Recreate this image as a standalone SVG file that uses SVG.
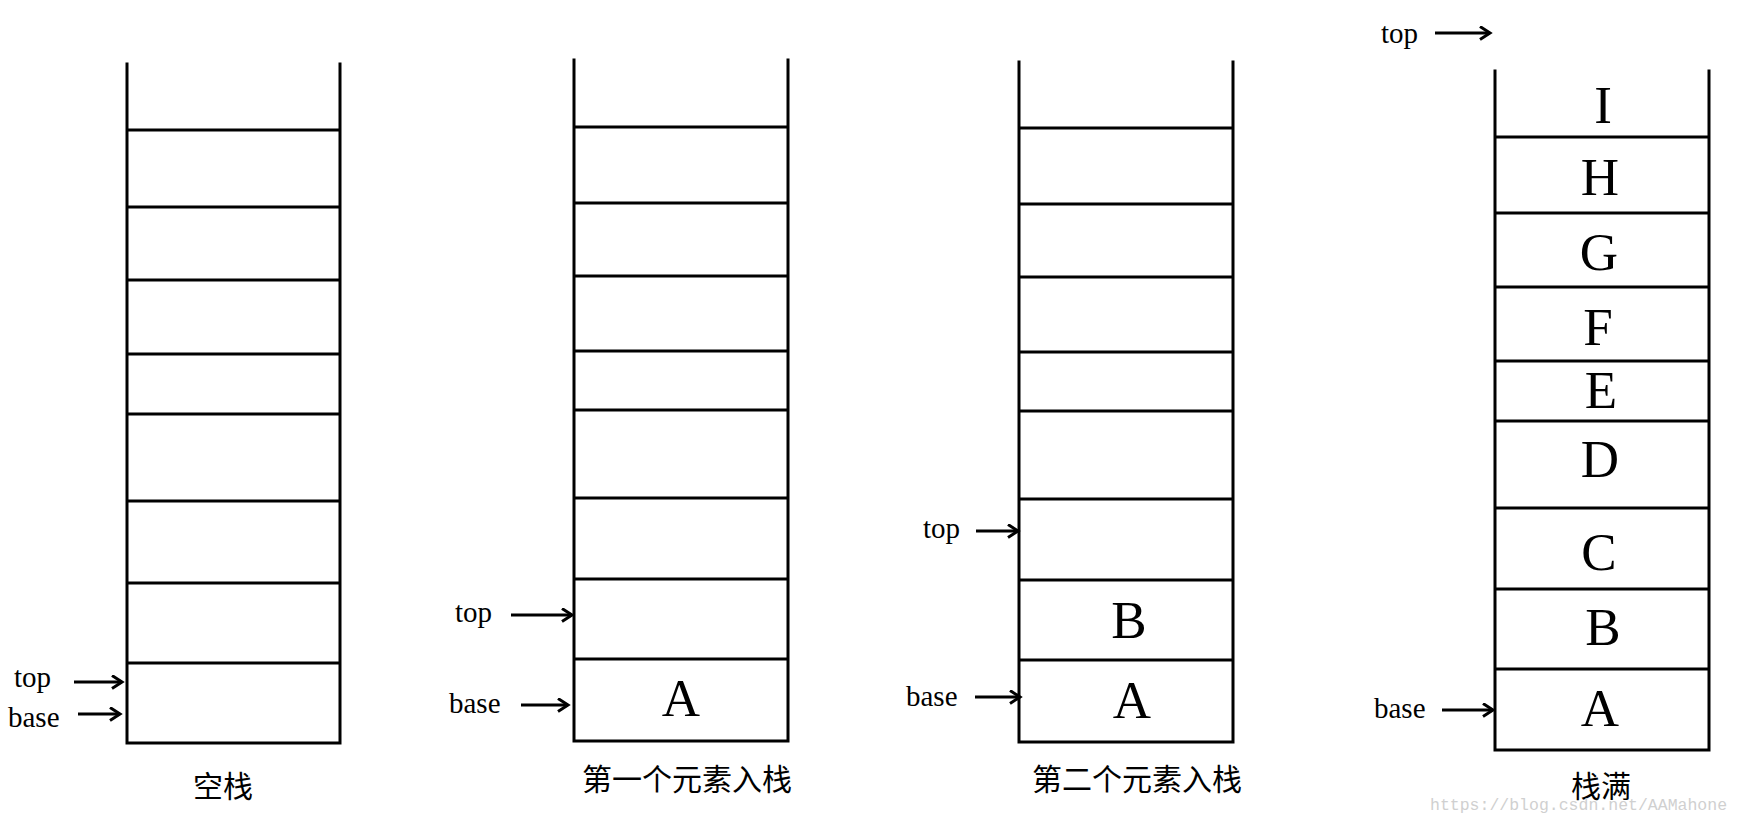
<svg xmlns="http://www.w3.org/2000/svg" width="1741" height="825" viewBox="0 0 1741 825">
<style>
.w{stroke:#000;stroke-width:3;fill:none;stroke-linecap:square}
.h{stroke:#000;stroke-width:3}
.lbl{font-family:"Liberation Serif",serif;font-size:29px;fill:#000}
.big{font-family:"Liberation Serif",serif;font-size:53px;fill:#000;text-anchor:middle}
.cap{font-family:"Noto Sans CJK SC","Noto Sans",sans-serif;font-size:30px;fill:#000;text-anchor:middle}
.arr{stroke:#000;stroke-width:3;fill:none;marker-end:url(#ah)}
.wm{font-family:"Liberation Mono",monospace;font-size:16.5px;fill:#d0d0d0}
</style>
<defs>
<marker id="ah" markerUnits="userSpaceOnUse" markerWidth="14" markerHeight="16" refX="11" refY="7" orient="auto">
<path d="M1,0.5 L11,7 L1,13.5" fill="none" stroke="#000" stroke-width="3"/>
</marker>
</defs>

<g id="stack1">
<path class="w" d="M127,64 V743 H340 V64"/>
<g class="h">
<line x1="127" y1="130" x2="340" y2="130"/>
<line x1="127" y1="207" x2="340" y2="207"/>
<line x1="127" y1="280" x2="340" y2="280"/>
<line x1="127" y1="354" x2="340" y2="354"/>
<line x1="127" y1="414" x2="340" y2="414"/>
<line x1="127" y1="501" x2="340" y2="501"/>
<line x1="127" y1="583" x2="340" y2="583"/>
<line x1="127" y1="663" x2="340" y2="663"/>
</g>
<text class="lbl" x="14" y="687">top</text>
<text class="lbl" x="8" y="727">base</text>
<text class="cap" x="223" y="797">空栈</text>
</g>

<g id="stack2">
<path class="w" d="M574,60 V741 H788 V60"/>
<g class="h">
<line x1="574" y1="127" x2="788" y2="127"/>
<line x1="574" y1="203" x2="788" y2="203"/>
<line x1="574" y1="276" x2="788" y2="276"/>
<line x1="574" y1="351" x2="788" y2="351"/>
<line x1="574" y1="410" x2="788" y2="410"/>
<line x1="574" y1="498" x2="788" y2="498"/>
<line x1="574" y1="579" x2="788" y2="579"/>
<line x1="574" y1="659" x2="788" y2="659"/>
</g>
<text class="big" x="681" y="716">A</text>
<text class="lbl" x="455" y="622">top</text>
<text class="lbl" x="449" y="713">base</text>
<text class="cap" x="687" y="790">第一个元素入栈</text>
</g>

<g id="stack3">
<path class="w" d="M1019,62 V742 H1233 V62"/>
<g class="h">
<line x1="1019" y1="128" x2="1233" y2="128"/>
<line x1="1019" y1="204" x2="1233" y2="204"/>
<line x1="1019" y1="277" x2="1233" y2="277"/>
<line x1="1019" y1="352" x2="1233" y2="352"/>
<line x1="1019" y1="411" x2="1233" y2="411"/>
<line x1="1019" y1="499" x2="1233" y2="499"/>
<line x1="1019" y1="580" x2="1233" y2="580"/>
<line x1="1019" y1="660" x2="1233" y2="660"/>
</g>
<text class="big" x="1129" y="638">B</text>
<text class="big" x="1132" y="718">A</text>
<text class="lbl" x="923" y="538">top</text>
<text class="lbl" x="906" y="706">base</text>
<text class="cap" x="1137" y="790">第二个元素入栈</text>
</g>

<g id="stack4">
<path class="w" d="M1495,71 V750 H1709 V71"/>
<g class="h">
<line x1="1495" y1="137" x2="1709" y2="137"/>
<line x1="1495" y1="213" x2="1709" y2="213"/>
<line x1="1495" y1="287" x2="1709" y2="287"/>
<line x1="1495" y1="361" x2="1709" y2="361"/>
<line x1="1495" y1="421" x2="1709" y2="421"/>
<line x1="1495" y1="508" x2="1709" y2="508"/>
<line x1="1495" y1="589" x2="1709" y2="589"/>
<line x1="1495" y1="669" x2="1709" y2="669"/>
</g>
<text class="big" x="1603" y="123">I</text>
<text class="big" x="1600" y="195">H</text>
<text class="big" x="1599" y="270">G</text>
<text class="big" x="1598" y="345">F</text>
<text class="big" x="1601" y="408">E</text>
<text class="big" x="1600" y="477">D</text>
<text class="big" x="1599" y="570">C</text>
<text class="big" x="1603" y="645">B</text>
<text class="big" x="1600" y="726">A</text>
<text class="lbl" x="1381" y="43">top</text>
<text class="lbl" x="1374" y="718">base</text>
<text class="cap" x="1601" y="797">栈满</text>
</g>

<g id="connectors">
<line class="arr" x1="74" y1="682" x2="122" y2="682"/>
<line class="arr" x1="78" y1="714" x2="120" y2="714"/>
<line class="arr" x1="511" y1="615" x2="572" y2="615"/>
<line class="arr" x1="521" y1="705" x2="568" y2="705"/>
<line class="arr" x1="976" y1="531" x2="1018" y2="531"/>
<line class="arr" x1="975" y1="697" x2="1020" y2="697"/>
<line class="arr" x1="1435" y1="33" x2="1490" y2="33"/>
<line class="arr" x1="1442" y1="710" x2="1493" y2="710"/>
</g>

<text class="wm" x="1430" y="810">https://blog.csdn.net/AAMahone</text>
</svg>
